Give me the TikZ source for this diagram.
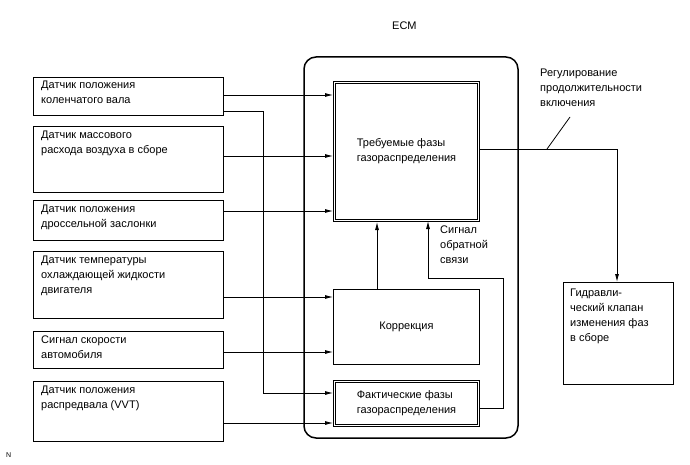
\documentclass[tikz,border=0pt]{standalone}
\usepackage{fontspec}
\setmainfont{Liberation Sans}
\usetikzlibrary{arrows.meta}

\tikzset{
  sensor/.style={draw, line width=1pt, anchor=north west, minimum width=190pt, inner sep=0pt},
  stage/.style={draw, line width=1pt, anchor=north west, minimum width=146pt, inner sep=0pt, align=left, font=\fontsize{11}{15}\selectfont},
  inner/.style={draw, line width=0.8pt},
  caption/.style={anchor=north west, align=left, inner sep=0pt, font=\fontsize{11}{15}\selectfont},
  sig/.style={line width=0.8pt, -{Latex[length=8pt,width=4pt]}}
}

\begin{document}
\begin{tikzpicture}[x=1pt, y=-1pt]
 \useasboundingbox (0,0) rectangle (690,465);

 % sensors
 \node[sensor, minimum height=38pt] (s1) at (33,77) {};
 \node[sensor, minimum height=66pt] (s2) at (33,126) {};
 \node[sensor, minimum height=40pt] (s3) at (33,200) {};
 \node[sensor, minimum height=67pt] (s4) at (33,251) {};
 \node[sensor, minimum height=37pt] (s5) at (33,331) {};
 \node[sensor, minimum height=60pt] (s6) at (33,381) {};
 \node[caption] at (41,81) {Датчик положения\\коленчатого вала};
 \node[caption] at (41,131) {Датчик массового\\расхода воздуха в сборе};
 \node[caption] at (41,205) {Датчик положения\\дроссельной заслонки};
 \node[caption] at (41,256) {Датчик температуры\\охлаждающей жидкости\\двигателя};
 \node[caption] at (41,336) {Сигнал скорости\\автомобиля};
 \node[caption] at (41,386) {Датчик положения\\распредвала (VVT)};

 % ECM
 \draw[line width=1.5pt, rounded corners=12pt] (304,57) rectangle (518,438);
 \node[caption] at (392,22) {ECM};
 \node[stage, minimum height=140pt] (req) at (333,81) {Требуемые фазы\\газораспределения};
 \node[stage, minimum height=75pt] (corr) at (333,289) {Коррекция};
 \node[stage, minimum height=46pt] (act) at (333,380) {Фактические фазы\\газораспределения};
 \draw[inner] ([shift={(2.5pt,-2.5pt)}]req.north west) rectangle ([shift={(-2.5pt,2.5pt)}]req.south east);
 \draw[inner] ([shift={(2.5pt,-2.5pt)}]act.north west) rectangle ([shift={(-2.5pt,2.5pt)}]act.south east);
 \node[caption] at (440,226) {Сигнал\\обратной\\связи};

 % valve
 \node[sensor, minimum width=110pt, minimum height=102pt] (valve) at (563,282) {};
 \node[caption] at (570,289) {Гидравли-\\ческий клапан\\изменения фаз\\в сборе};
 \node[caption] (duty) at (540,69) {Регулирование\\продолжительности\\включения};
 \node[caption] at (6,452) {\fontsize{7}{8}\selectfont N};

 % signals
 \draw[sig] (s1.east |- 0,95) -- (req.west |- 0,95);
 \draw[sig] (s1.east |- 0,111) -| (263,393) -- (act.west |- 0,393);
 \draw[sig] (s2.east |- 0,156) -- (req.west |- 0,156);
 \draw[sig] (s3.east |- 0,211) -- (req.west |- 0,211);
 \draw[sig] (s4.east |- 0,297) -- (corr.west |- 0,297);
 \draw[sig] (s5.east |- 0,352) -- (corr.west |- 0,352);
 \draw[sig] (s6.east |- 0,423) -- (act.west |- 0,423);
 \draw[sig] (corr.north -| 377,0) -- (req.south -| 377,0);
 \draw[sig] (act.east |- 0,408) -| (503,278) -| (428,221);
 \draw[sig] (req.east |- 0,149) -| (valve.north -| 617,0);
 \draw[line width=0.8pt] (547,149) -- (570,117);
\end{tikzpicture}
\end{document}
